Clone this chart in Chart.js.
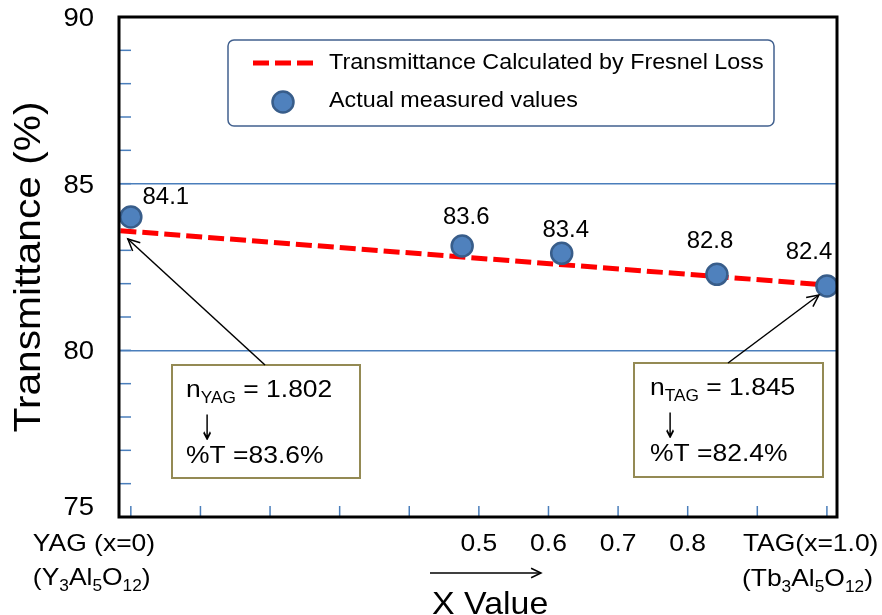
<!DOCTYPE html>
<html><head><meta charset="utf-8">
<script src="https://cdn.jsdelivr.net/npm/chart.js@4.4.1/dist/chart.umd.min.js"></script>
<style>html,body{margin:0;padding:0;background:#fff;}#wrap{width:882px;height:615px;}</style>
</head><body><div id="wrap"><canvas id="c" width="882" height="615"></canvas></div>
<script>
// ---- data ----
const xValues = [0, 0.476, 0.619, 0.842, 1.0];
const measuredT = [84.0, 83.13, 82.91, 82.28, 81.93];
const measuredLabels = ['84.1', '83.6', '83.4', '82.8', '82.4'];
const fresnelX = [-0.015, 1.0];
const fresnelT = [83.59, 81.96];
const yTickValues = [75, 76, 77, 78, 79, 80, 81, 82, 83, 84, 85, 86, 87, 88, 89, 90];
const yLabelValues = [75, 80, 85, 90];
const yGridValues = [80, 85];
const xMinorTicks = [0, 0.1, 0.2, 0.3, 0.4, 0.5, 0.6, 0.7, 0.8, 0.9, 1.0];
const xTickLabelValues = [0.5, 0.6, 0.7, 0.8];
const xTickLabels = ['0.5', '0.6', '0.7', '0.8'];
const seriesNames = ['Transmittance Calculated by Fresnel Loss', 'Actual measured values'];
const yTitle = 'Transmittance (%)';
const xTitle = 'X Value';
const leftEndLabel = [[{t: 'YAG (x=0)'}], [{t: '(Y'}, {t: '3', sub: true}, {t: 'Al'}, {t: '5', sub: true}, {t: 'O'}, {t: '12', sub: true}, {t: ')'}]];
const rightEndLabel = [[{t: 'TAG(x=1.0)'}], [{t: '(Tb'}, {t: '3', sub: true}, {t: 'Al'}, {t: '5', sub: true}, {t: 'O'}, {t: '12', sub: true}, {t: ')'}]];
const noteYAG = [[{t: 'n'}, {t: 'YAG', sub: true}, {t: ' = 1.802'}], '\u2193', [{t: '%T =83.6%'}]];
const noteTAG = [[{t: 'n'}, {t: 'TAG', sub: true}, {t: ' = 1.845'}], '\u2193', [{t: '%T =82.4%'}]];

// ---- styles ----
const FONT = '"Liberation Sans", Arial, sans-serif';
const RED = '#FF0000', BLUE = '#4F81BD', BLUE_EDGE = '#385D8A', GRID = '#4A7EBB', OLIVE = '#948A54';

function rich(ctx, segs, x, y, size, subSize, subDy, sx, align) {
  ctx.save();
  ctx.textBaseline = 'alphabetic';
  ctx.textAlign = 'left';
  let w = 0;
  const ws = segs.map(s => { ctx.font = (s.sub ? subSize : size) + 'px ' + FONT; const m = ctx.measureText(s.t).width; w += m; return m; });
  let x0 = align === 'center' ? x - w * sx / 2 : (align === 'right' ? x - w * sx : x);
  ctx.translate(x0, y);
  ctx.scale(sx, 1);
  let cx = 0;
  segs.forEach((s, i) => {
    ctx.font = (s.sub ? subSize : size) + 'px ' + FONT;
    ctx.fillStyle = '#000';
    ctx.fillText(s.t, cx, s.sub ? subDy : 0);
    cx += ws[i];
  });
  ctx.restore();
}
function text(ctx, str, x, y, size, sx, align, baseline, family, sy) {
  ctx.save();
  ctx.font = size + 'px ' + (family || FONT);
  ctx.textBaseline = baseline || 'alphabetic';
  ctx.textAlign = 'left';
  const w = ctx.measureText(str).width * sx;
  const x0 = align === 'center' ? x - w / 2 : (align === 'right' ? x - w : x);
  ctx.translate(x0, y);
  ctx.scale(sx, sy || 1);
  ctx.fillStyle = '#000';
  ctx.fillText(str, 0, 0);
  ctx.restore();
}
function arrow(ctx, x1, y1, x2, y2, head) {
  ctx.save();
  ctx.strokeStyle = '#000';
  ctx.lineWidth = 1.5;
  ctx.beginPath(); ctx.moveTo(x1, y1); ctx.lineTo(x2, y2); ctx.stroke();
  const a = Math.atan2(y2 - y1, x2 - x1);
  ctx.beginPath();
  ctx.moveTo(x2 - head * Math.cos(a - 0.45), y2 - head * Math.sin(a - 0.45));
  ctx.lineTo(x2, y2);
  ctx.lineTo(x2 - head * Math.cos(a + 0.45), y2 - head * Math.sin(a + 0.45));
  ctx.stroke();
  ctx.restore();
}
function roundRect(ctx, x, y, w, h, r) {
  ctx.beginPath();
  ctx.moveTo(x + r, y);
  ctx.lineTo(x + w - r, y); ctx.arcTo(x + w, y, x + w, y + r, r);
  ctx.lineTo(x + w, y + h - r); ctx.arcTo(x + w, y + h, x + w - r, y + h, r);
  ctx.lineTo(x + r, y + h); ctx.arcTo(x, y + h, x, y + h - r, r);
  ctx.lineTo(x, y + r); ctx.arcTo(x, y, x + r, y, r);
  ctx.closePath();
}

const decor = {
  id: 'decor',
  beforeDatasetsDraw(chart) {
    const {ctx, chartArea: ca, scales: {x, y}} = chart;
    ctx.save();
    ctx.strokeStyle = GRID; ctx.lineWidth = 1.5;
    yTickValues.forEach(v => { const py = y.getPixelForValue(v); ctx.beginPath(); ctx.moveTo(ca.left, py); ctx.lineTo(ca.left + 12, py); ctx.stroke(); });
    xMinorTicks.forEach(v => { const px = x.getPixelForValue(v); ctx.beginPath(); ctx.moveTo(px, ca.bottom); ctx.lineTo(px, ca.bottom - 11); ctx.stroke(); });
    ctx.restore();
  },
  afterDatasetsDraw(chart) {
    const {ctx, chartArea: ca, scales: {x, y}} = chart;
    // frame
    ctx.save();
    ctx.strokeStyle = '#000'; ctx.lineWidth = 3;
    ctx.strokeRect(ca.left, ca.top, ca.right - ca.left, ca.bottom - ca.top);
    ctx.restore();
    // y tick labels and title
    yLabelValues.forEach(v => {
      const py = y.getPixelForValue(v) + (v === 75 ? -9 : 2);
      text(ctx, String(v), ca.left - 25, py, 25, 1.1, 'right', 'middle');
    });
    ctx.save();
    ctx.translate(30, (ca.top + ca.bottom) / 2);
    ctx.rotate(-Math.PI / 2);
    ctx.scale(1.1, 1);
    ctx.font = '37px ' + FONT; ctx.textAlign = 'center'; ctx.textBaseline = 'middle'; ctx.fillStyle = '#000';
    ctx.fillText(yTitle, 0, 0);
    ctx.restore();
    // data labels
    const offs = [[35, -19], [4, -28], [4, -23], [-7, -33], [-18, -33]];
    xValues.forEach((xv, i) => {
      const px = x.getPixelForValue(xv), py = y.getPixelForValue(measuredT[i]);
      text(ctx, measuredLabels[i], px + offs[i][0], py + offs[i][1], 23, 1.04, 'center', 'middle');
    });
    // legend
    ctx.save();
    ctx.strokeStyle = '#41608E'; ctx.lineWidth = 1.5;
    roundRect(ctx, 228, 40, 546, 86, 6); ctx.fillStyle = '#fff'; ctx.fill(); ctx.stroke();
    const ds0 = chart.data.datasets[0], ds1 = chart.data.datasets[1];
    ctx.strokeStyle = ds0.borderColor; ctx.lineWidth = ds0.borderWidth; ctx.setLineDash(ds0.borderDash);
    ctx.beginPath(); ctx.moveTo(253, 63); ctx.lineTo(314, 63); ctx.stroke();
    ctx.setLineDash([]);
    ctx.beginPath(); ctx.arc(283, 102, ds1.pointRadius, 0, Math.PI * 2);
    ctx.fillStyle = ds1.backgroundColor; ctx.fill();
    ctx.strokeStyle = ds1.borderColor; ctx.lineWidth = ds1.borderWidth; ctx.stroke();
    ctx.restore();
    text(ctx, seriesNames[0], 329, 63, 22, 1.06, 'left', 'middle');
    text(ctx, seriesNames[1], 329, 101, 22, 1.06, 'left', 'middle');
    // annotation boxes
    const boxes = [
      {r: [172, 365, 188, 113], note: noteYAG, tx: 186, arrowFrom: [265, 365], pt: 0, tip: [-3, 22], ax: 207},
      {r: [634, 363, 189, 114], note: noteTAG, tx: 650, arrowFrom: [728, 363], pt: 4, tip: [-8, 9], ax: 670}
    ];
    boxes.forEach(b => {
      ctx.save();
      ctx.fillStyle = '#fff'; ctx.fillRect(...b.r);
      ctx.strokeStyle = OLIVE; ctx.lineWidth = 2; ctx.strokeRect(...b.r);
      ctx.restore();
      const top = b.r[1];
      rich(ctx, b.note[0], b.tx, top + 32, 24.5, 16, 6, 1.08, 'left');
      text(ctx, b.note[1], b.ax, top + 66, 28, 0.65, 'center', 'middle', '"DejaVu Sans", sans-serif', 1.25);
      rich(ctx, b.note[2], b.tx, top + 98, 24.5, 16, 6, 1.08, 'left');
      const px = x.getPixelForValue(xValues[b.pt]), py = y.getPixelForValue(measuredT[b.pt]);
      arrow(ctx, b.arrowFrom[0], b.arrowFrom[1], px + b.tip[0], py + b.tip[1], 13);
    });
    // x labels
    xTickLabelValues.forEach((v, i) => text(ctx, xTickLabels[i], x.getPixelForValue(v), 551, 24.5, 1.08, 'center'));
    const x0 = x.getPixelForValue(0), x1 = x.getPixelForValue(1);
    rich(ctx, leftEndLabel[0], x0 - 98, 551, 24.5, 16, 6, 1.08, 'left');
    rich(ctx, leftEndLabel[1], x0 - 98, 585, 24.5, 16, 6, 1.08, 'left');
    rich(ctx, rightEndLabel[0], x1 - 84, 551, 24.5, 16, 6, 1.08, 'left');
    rich(ctx, rightEndLabel[1], x1 - 85, 586, 24.5, 16, 6, 1.08, 'left');
    // x title with arrow
    arrow(ctx, 430, 573, 541, 573, 11);
    text(ctx, xTitle, 432, 614, 32, 1.06, 'left');
  }
};

new Chart(document.getElementById('c'), {
  type: 'scatter',
  data: {
    datasets: [
      {type: 'line', label: seriesNames[0], data: fresnelX.map((v, i) => ({x: v, y: fresnelT[i]})),
       borderColor: RED, borderWidth: 5, borderDash: [16, 6], pointRadius: 0, fill: false, tension: 0, order: 2},
      {type: 'scatter', label: seriesNames[1], data: xValues.map((v, i) => ({x: v, y: measuredT[i]})),
       backgroundColor: BLUE, borderColor: BLUE_EDGE, borderWidth: 2.5, pointRadius: 10.5, order: 1}
    ]
  },
  options: {
    responsive: false, animation: false, devicePixelRatio: 1,
    layout: {padding: {left: 119, top: 17, right: 45, bottom: 98}},
    plugins: {legend: {display: false}, tooltip: {enabled: false}},
    scales: {
      x: {type: 'linear', min: -0.017, max: 1.0145, display: false},
      y: {type: 'linear', min: 75, max: 90,
          afterBuildTicks: axis => { axis.ticks = yTickValues.map(v => ({value: v})); },
          ticks: {display: false},
          grid: {drawTicks: false, lineWidth: 1.5, color: c => (c.tick && yGridValues.includes(c.tick.value)) ? GRID : 'rgba(0,0,0,0)'},
          border: {display: false},
          title: {display: false}}
    }
  },
  plugins: [decor]
});
</script></body></html>
